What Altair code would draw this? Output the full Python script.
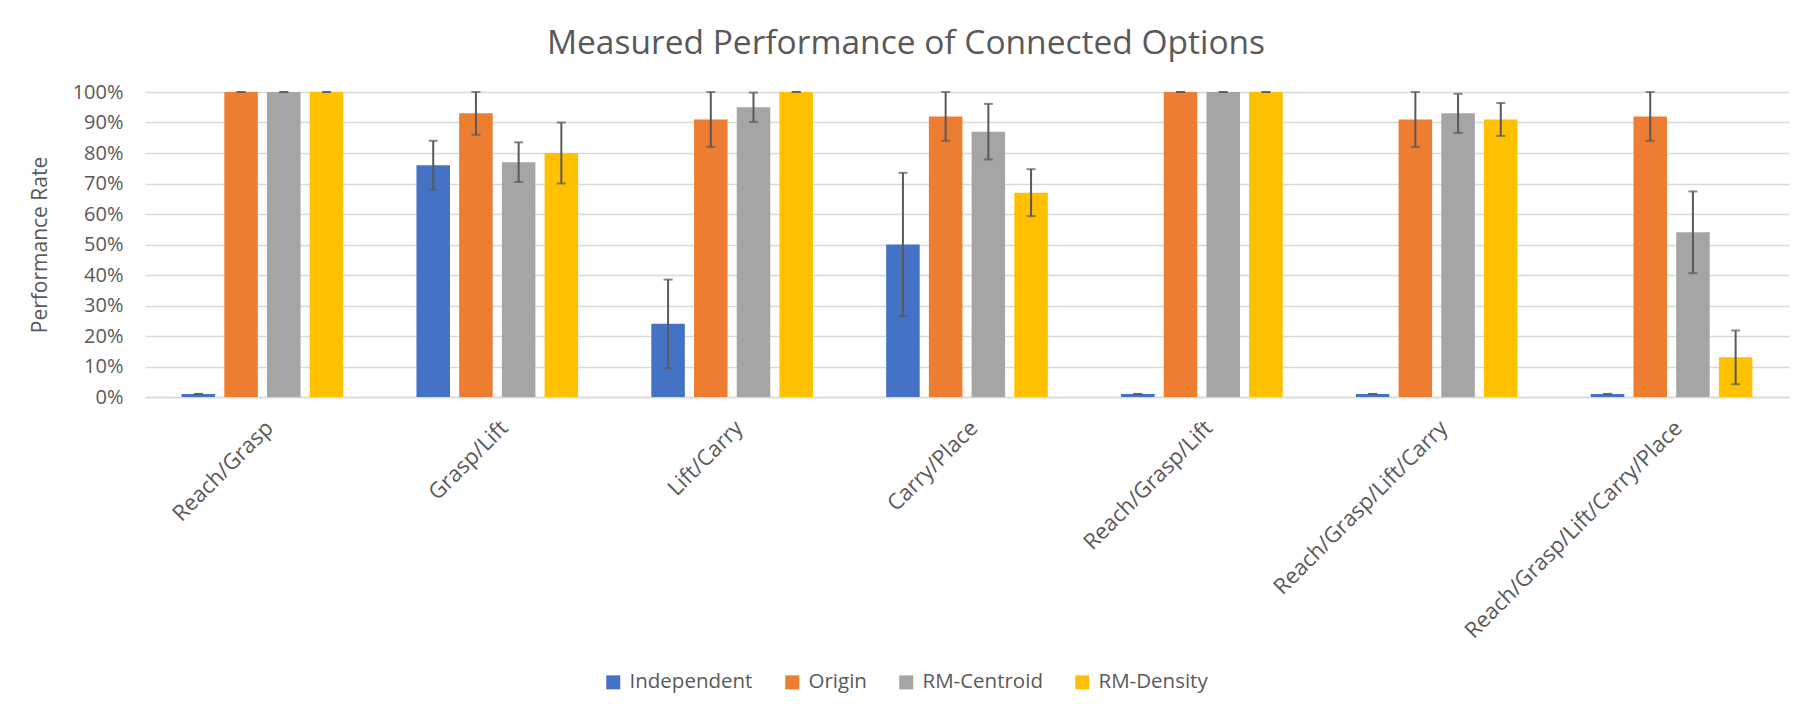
import altair as alt
import pandas as pd

categories = ["Reach/Grasp", "Grasp/Lift", "Lift/Carry", "Carry/Place",
              "Reach/Grasp/Lift", "Reach/Grasp/Lift/Carry",
              "Reach/Grasp/Lift/Carry/Place"]
series = ["Independent", "Origin", "RM-Centroid", "RM-Density"]
colors = ["#4472C4", "#ED7D31", "#A5A5A5", "#FFC000"]
y_ticks = [0.0, 0.1, 0.2, 0.3, 0.4, 0.5, 0.6, 0.7, 0.8, 0.9, 1.0]

independent = [0.01, 0.76, 0.24, 0.50, 0.01, 0.01, 0.01]
independent_err = [0.0, 0.08, 0.145, 0.235, 0.0, 0.0, 0.0]
origin = [1.00, 0.93, 0.91, 0.92, 1.00, 0.91, 0.92]
origin_err = [0.0, 0.07, 0.09, 0.08, 0.0, 0.09, 0.08]
centroid = [1.00, 0.77, 0.95, 0.87, 1.00, 0.93, 0.54]
centroid_err = [0.0, 0.065, 0.048, 0.091, 0.0, 0.064, 0.134]
density = [1.00, 0.80, 1.00, 0.67, 1.00, 0.91, 0.13]
density_err = [0.0, 0.10, 0.0, 0.077, 0.0, 0.054, 0.088]

values = [independent, origin, centroid, density]
errors = [independent_err, origin_err, centroid_err, density_err]

rows = []
for s, vals, errs in zip(series, values, errors):
    for c, v, e in zip(categories, vals, errs):
        rows.append({"category": c, "series": s, "value": v, "err": e})
df = pd.DataFrame(rows)

FONT = "Open Sans"
TXT = "#595959"

x_enc = alt.X("category:N", sort=categories,
              scale=alt.Scale(paddingInner=0, paddingOuter=0),
              axis=alt.Axis(title=None, labelAngle=-45, labelAlign="right",
                            labelBaseline="top", labelFontSize=22,
                            labelFont=FONT, labelColor=TXT, labelPadding=20,
                            ticks=False, domain=True, domainColor="#d9d9d9",
                            domainWidth=1.5, grid=False, labelLimit=600,
                            labelOverlap=False))
xo_enc = alt.XOffset("series:N", sort=series,
                     scale=alt.Scale(paddingInner=0.215, paddingOuter=0.857))

base = alt.Chart(df).encode(x=x_enc, xOffset=xo_enc)

yscale = alt.Scale(domain=[0, 1], nice=False, zero=True)
yaxis = alt.Axis(format=".0%", values=y_ticks, tickCount=20,
                 labelOverlap=False,
                 title="Performance Rate", titleFontSize=21,
                 titleFont=FONT, titleColor=TXT, titleFontWeight="normal",
                 titlePadding=22,
                 labelFontSize=20, labelFont=FONT, labelColor=TXT,
                 labelPadding=22, ticks=False, domain=False,
                 grid=True, gridColor="#d9d9d9", gridWidth=1.5)

bars = base.mark_bar().encode(
    y=alt.Y("value:Q", scale=yscale, axis=yaxis, title="Performance Rate"),
    color=alt.Color("series:N", sort=series,
                    scale=alt.Scale(domain=series, range=colors),
                    legend=alt.Legend(title=None, orient="none",
                                      direction="horizontal",
                                      legendX=458, legendY=580,
                                      symbolType="square", symbolSize=196,
                                      symbolStrokeWidth=0,
                                      labelFontSize=20.5, labelFont=FONT,
                                      labelColor=TXT, columnPadding=29,
                                      labelOffset=6)),
)

err_base = base.transform_calculate(
    lo="max(datum.value - datum.err, 0)",
    hi="min(datum.value + datum.err, 1)",
)

rules = err_base.mark_rule(color=TXT, strokeWidth=2).encode(
    y=alt.Y("lo:Q", scale=yscale, axis=yaxis, title="Performance Rate"),
    y2=alt.Y2("hi:Q"))
cap_lo = err_base.mark_tick(color=TXT, size=9, thickness=2).encode(
    y=alt.Y("lo:Q", scale=yscale, axis=yaxis, title="Performance Rate"))
cap_hi = err_base.mark_tick(color=TXT, size=9, thickness=2).encode(
    y=alt.Y("hi:Q", scale=yscale, axis=yaxis, title="Performance Rate"))

chart = alt.layer(bars, rules, cap_lo, cap_hi).properties(
    width=1644, height=305,
    padding={"left": 137, "top": 84, "right": 10, "bottom": 300},
    autosize="none",
    title=alt.TitleParams("Measured Performance of Connected Options",
                          fontSize=33.5, font=FONT, fontWeight="normal", color=TXT,
                          anchor="middle", dx=-61, offset=21),
).configure_view(stroke=None)

chart.save("out.html", embed_options={"renderer": "svg", "actions": False})
